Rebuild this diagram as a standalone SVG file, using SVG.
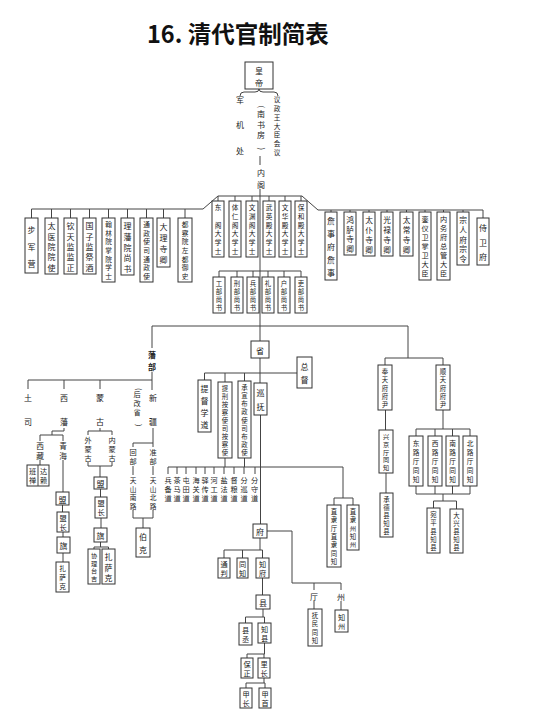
<svg xmlns="http://www.w3.org/2000/svg" width="533" height="719" viewBox="0 0 533 719">
<style>
.t{font-family:"Noto Sans CJK SC","Noto Sans CJK TC",sans-serif;font-size:8px;fill:#222;text-anchor:middle;dominant-baseline:central}
.a{font-size:6.2px}
.s{font-size:6.4px}
.n{font-size:6.7px}
.m{font-size:7.2px}
.p{font-size:7.7px}
.b{fill:#fff;stroke:#333;stroke-width:1}
.c{fill:none;stroke:#444;stroke-width:1}
.title{font-family:"Noto Sans CJK SC","Liberation Sans",sans-serif;font-weight:bold;font-size:23.5px;fill:#111}
</style>
<rect width="533" height="719" fill="#fff"/>
<text class="title" x="147" y="43">16. 清代官制简表</text>

<g id="connectors" class="c">
<path d="M240,96 Q240,92 244,92 L255,92 Q259,92 259,89 Q259,92 263,92 L274,92 Q278,92 278,96"/>
<path d="M260,156 V165"/>
<path d="M260,189 V341"/>
<path d="M31.5,209 H203 L218,196 H302 L318,210 H483"/>
<path d="M31.5,209 V218 M51.5,209 V218 M70.5,209 V218 M89.5,209 V218 M108.5,209 V218 M127.5,209 V218 M146.5,209 V218 M163.5,209 V218 M185,209 V218"/>
<path d="M218,196 V201 M235,196 V201 M252,196 V201 M269,196 V201 M285,196 V201 M301,196 V201"/>
<path d="M331,210 V212 M350,210 V212 M369,210 V212 M387,210 V212 M406.5,210 V212 M425,210 V212 M443.5,210 V212 M463,210 V212 M483,210 V218"/>
<path d="M219,271 H301 M219,271 V277 M237,271 V277 M253,271 V277 M268,271 V277 M284,271 V277 M301,271 V277"/>
<path d="M152,326 H408 V358"/>
<path d="M152,326 V348 M152,372 V390 M28,380 H152 M28,380 V389 M64,380 V389 M100,380 V389"/>
<path d="M64,428 V431 H52 V435 M40,441 V435 H63 V441 M40,460 V465"/>
<path d="M63,460 V492 M62.5,505 V512 M63,532 V537 M63,553 V562"/>
<path d="M100,428 V431 M88,435 V431 H112 V435 M88,462 V466 H112 V462 M100,466 V477 M100.5,489 V497 M101,518 V528 M100.5,542 V547 M94,549 V547 H108.5 V549"/>
<path d="M153,428 V443 M133,447 V443 H153 V447 M133,466 V475 M153,466 V475 M133,510 V518 H153 V510 M143,518 V528"/>
<path d="M260,358 V383 M204.5,373 H297 M204.5,373 V380 M225,373 V382 M244.5,373 V381"/>
<path d="M260.5,415 V524"/>
<path d="M225,458 V467 M244.5,458 V467 M168,467 H343 V498 M334,498 H353 M334,498 V505 M353,498 V505"/>
<path d="M168,467 V474 M177,467 V474 M186,467 V474 M196,467 V474 M205,467 V474 M214,467 V474 M224,467 V474 M234,467 V474 M244,467 V474 M255,467 V474"/>
<path d="M267,531 H292 V583 H341 M314,583 V590 M341,583 V590 M314,601 V609 M341,601 V610"/>
<path d="M260,538 V550 M224,550 H262.5 M224,550 V558 M242.5,550 V558 M262.5,550 V558 M262.5,578 V595"/>
<path d="M263,609 V617 M245.5,617 H264.5 M245.5,617 V623 M264.5,617 V623"/>
<path d="M264.5,643 V654 M247,654 H264.5 M247,654 V658 M264,654 V658"/>
<path d="M264,678 V683 M246,683 H265 M246,683 V688 M265,683 V688"/>
<path d="M385,358 H443 M385,358 V365 M443,358 V365 M385.5,410 V430 M386,473 V493"/>
<path d="M443,410 V429 M416,429 H470 M416,429 V436 M435,429 V436 M452.5,429 V436 M470,429 V436"/>
<path d="M416,486 V494 M435,486 V494 M452.5,486 V494 M470,486 V494 M416,494 H470 M443,494 V501 M433.5,501 H456.5 M433.5,501 V508 M456.5,501 V509"/>
</g>

<g id="n-huangdi"><rect class="b" x="245" y="62" width="28" height="27"/><text class="t"><tspan x="259" y="70">皇</tspan><tspan x="259" y="82">帝</tspan></text></g>
<g id="n-junjichu"><text class="t"><tspan x="240" y="99">军</tspan><tspan x="240" y="124">机</tspan><tspan x="240" y="150">处</tspan></text></g>
<g id="n-nanshufang"><text class="t"><tspan x="261" y="102" rotate="90">(</tspan><tspan x="261" y="113">南</tspan><tspan x="261" y="123.5">书</tspan><tspan x="261" y="134">房</tspan><tspan x="261" y="144" rotate="90">)</tspan></text></g>
<g id="n-yizheng"><text class="t n"><tspan x="277" y="99">议</tspan><tspan x="277" y="107.8">政</tspan><tspan x="277" y="116.7">王</tspan><tspan x="277" y="125.5">大</tspan><tspan x="277" y="134.3">臣</tspan><tspan x="277" y="143.2">会</tspan><tspan x="277" y="152">议</tspan></text></g>
<g id="n-neige"><text class="t"><tspan x="261" y="172">内</tspan><tspan x="261" y="184">阁</tspan></text></g>

<g id="n-bujunying"><rect class="b" x="25" y="218" width="13" height="55"/><text class="t"><tspan x="31.5" y="228.5">步</tspan><tspan x="31.5" y="245.5">军</tspan><tspan x="31.5" y="262.5">营</tspan></text></g>
<g id="n-taiyiyuan"><rect class="b" x="45" y="218" width="13" height="56"/><text class="t"><tspan x="51.5" y="225.2">太</tspan><tspan x="51.5" y="235.6">医</tspan><tspan x="51.5" y="246">院</tspan><tspan x="51.5" y="256.4">院</tspan><tspan x="51.5" y="266.8">使</tspan></text></g>
<g id="n-qintianjian"><rect class="b" x="64" y="218" width="13" height="56"/><text class="t"><tspan x="70.5" y="225.2">钦</tspan><tspan x="70.5" y="235.6">天</tspan><tspan x="70.5" y="246">监</tspan><tspan x="70.5" y="256.4">监</tspan><tspan x="70.5" y="266.8">正</tspan></text></g>
<g id="n-guozijian"><rect class="b" x="83" y="218" width="13" height="56"/><text class="t"><tspan x="89.5" y="225.2">国</tspan><tspan x="89.5" y="235.6">子</tspan><tspan x="89.5" y="246">监</tspan><tspan x="89.5" y="256.4">祭</tspan><tspan x="89.5" y="266.8">酒</tspan></text></g>
<g id="n-hanlinyuan"><rect class="b" x="102" y="218" width="13" height="64"/><text class="t n"><tspan x="108.5" y="224.3">翰</tspan><tspan x="108.5" y="232.9">林</tspan><tspan x="108.5" y="241.4">院</tspan><tspan x="108.5" y="250">掌</tspan><tspan x="108.5" y="258.6">院</tspan><tspan x="108.5" y="267.1">学</tspan><tspan x="108.5" y="275.7">士</tspan></text></g>
<g id="n-lifanyuan"><rect class="b" x="121" y="218" width="13" height="57"/><text class="t"><tspan x="127.5" y="225.3">理</tspan><tspan x="127.5" y="235.9">藩</tspan><tspan x="127.5" y="246.5">院</tspan><tspan x="127.5" y="257.1">尚</tspan><tspan x="127.5" y="267.7">书</tspan></text></g>
<g id="n-tongzhengshi"><rect class="b" x="140" y="218" width="13" height="64"/><text class="t n"><tspan x="146.5" y="224.3">通</tspan><tspan x="146.5" y="232.9">政</tspan><tspan x="146.5" y="241.4">使</tspan><tspan x="146.5" y="250">司</tspan><tspan x="146.5" y="258.6">通</tspan><tspan x="146.5" y="267.1">政</tspan><tspan x="146.5" y="275.7">使</tspan></text></g>
<g id="n-dalisi"><rect class="b" x="157" y="218" width="13" height="49"/><text class="t"><tspan x="163.5" y="225.6">大</tspan><tspan x="163.5" y="236.9">理</tspan><tspan x="163.5" y="248.1">寺</tspan><tspan x="163.5" y="259.4">卿</tspan></text></g>
<g id="n-duchayuan"><rect class="b" x="178" y="218" width="14" height="64"/><text class="t n"><tspan x="185" y="224.3">都</tspan><tspan x="185" y="232.9">察</tspan><tspan x="185" y="241.4">院</tspan><tspan x="185" y="250">左</tspan><tspan x="185" y="258.6">都</tspan><tspan x="185" y="267.1">御</tspan><tspan x="185" y="275.7">史</tspan></text></g>

<g id="n-dongge"><rect class="b" x="212" y="201" width="12" height="56"/><text class="t n"><tspan x="218" y="207.3">东</tspan><tspan x="218" y="224.7">阁</tspan><tspan x="218" y="233.3">大</tspan><tspan x="218" y="242">学</tspan><tspan x="218" y="250.7">士</tspan></text></g>
<g id="n-tirenge"><rect class="b" x="229" y="201" width="12" height="56"/><text class="t n"><tspan x="235" y="207.3">体</tspan><tspan x="235" y="216">仁</tspan><tspan x="235" y="224.7">阁</tspan><tspan x="235" y="233.3">大</tspan><tspan x="235" y="242">学</tspan><tspan x="235" y="250.7">士</tspan></text></g>
<g id="n-wenyuange"><rect class="b" x="246" y="201" width="12" height="56"/><text class="t n"><tspan x="252" y="207.3">文</tspan><tspan x="252" y="216">渊</tspan><tspan x="252" y="224.7">阁</tspan><tspan x="252" y="233.3">大</tspan><tspan x="252" y="242">学</tspan><tspan x="252" y="250.7">士</tspan></text></g>
<g id="n-wuyingdian"><rect class="b" x="263" y="201" width="12" height="56"/><text class="t n"><tspan x="269" y="207.3">武</tspan><tspan x="269" y="216">英</tspan><tspan x="269" y="224.7">殿</tspan><tspan x="269" y="233.3">大</tspan><tspan x="269" y="242">学</tspan><tspan x="269" y="250.7">士</tspan></text></g>
<g id="n-wenhuadian"><rect class="b" x="279" y="201" width="12" height="56"/><text class="t n"><tspan x="285" y="207.3">文</tspan><tspan x="285" y="216">华</tspan><tspan x="285" y="224.7">殿</tspan><tspan x="285" y="233.3">大</tspan><tspan x="285" y="242">学</tspan><tspan x="285" y="250.7">士</tspan></text></g>
<g id="n-baohedian"><rect class="b" x="295" y="201" width="12" height="56"/><text class="t n"><tspan x="301" y="207.3">保</tspan><tspan x="301" y="216">和</tspan><tspan x="301" y="224.7">殿</tspan><tspan x="301" y="233.3">大</tspan><tspan x="301" y="242">学</tspan><tspan x="301" y="250.7">士</tspan></text></g>

<g id="n-gongbu"><rect class="b" x="213" y="277" width="12" height="36"/><text class="t s"><tspan x="219" y="283">工</tspan><tspan x="219" y="291">部</tspan><tspan x="219" y="299">尚</tspan><tspan x="219" y="307">书</tspan></text></g>
<g id="n-xingbu"><rect class="b" x="231" y="277" width="12" height="36"/><text class="t s"><tspan x="237" y="283">刑</tspan><tspan x="237" y="291">部</tspan><tspan x="237" y="299">尚</tspan><tspan x="237" y="307">书</tspan></text></g>
<g id="n-bingbu"><rect class="b" x="247" y="277" width="12" height="36"/><text class="t s"><tspan x="253" y="283">兵</tspan><tspan x="253" y="291">部</tspan><tspan x="253" y="299">尚</tspan><tspan x="253" y="307">书</tspan></text></g>
<g id="n-libu"><rect class="b" x="262" y="277" width="12" height="36"/><text class="t s"><tspan x="268" y="283">礼</tspan><tspan x="268" y="291">部</tspan><tspan x="268" y="299">尚</tspan><tspan x="268" y="307">书</tspan></text></g>
<g id="n-hubu"><rect class="b" x="278" y="277" width="12" height="36"/><text class="t s"><tspan x="284" y="283">户</tspan><tspan x="284" y="291">部</tspan><tspan x="284" y="299">尚</tspan><tspan x="284" y="307">书</tspan></text></g>
<g id="n-libu2"><rect class="b" x="295" y="277" width="12" height="36"/><text class="t s"><tspan x="301" y="283">吏</tspan><tspan x="301" y="291">部</tspan><tspan x="301" y="299">尚</tspan><tspan x="301" y="307">书</tspan></text></g>

<g id="n-zhanshifu"><rect class="b" x="325" y="212" width="12" height="68"/><text class="t"><tspan x="331" y="220.4">詹</tspan><tspan x="331" y="233.2">事</tspan><tspan x="331" y="246">府</tspan><tspan x="331" y="258.8">詹</tspan><tspan x="331" y="271.6">事</tspan></text></g>
<g id="n-honglusi"><rect class="b" x="344" y="212" width="12" height="43"/><text class="t p"><tspan x="350" y="218.9">鸿</tspan><tspan x="350" y="228.6">胪</tspan><tspan x="350" y="238.4">寺</tspan><tspan x="350" y="248.1">卿</tspan></text></g>
<g id="n-taipusi"><rect class="b" x="363" y="212" width="12" height="44"/><text class="t p"><tspan x="369" y="219">太</tspan><tspan x="369" y="229">仆</tspan><tspan x="369" y="239">寺</tspan><tspan x="369" y="249">卿</tspan></text></g>
<g id="n-guanglusi"><rect class="b" x="381" y="212" width="12" height="44"/><text class="t p"><tspan x="387" y="219">光</tspan><tspan x="387" y="229">禄</tspan><tspan x="387" y="239">寺</tspan><tspan x="387" y="249">卿</tspan></text></g>
<g id="n-taichangsi"><rect class="b" x="400" y="212" width="13" height="44"/><text class="t p"><tspan x="406.5" y="219">太</tspan><tspan x="406.5" y="229">常</tspan><tspan x="406.5" y="239">寺</tspan><tspan x="406.5" y="249">卿</tspan></text></g>
<g id="n-luanyiwei"><rect class="b" x="419" y="212" width="12" height="68"/><text class="t m"><tspan x="425" y="218.6">銮</tspan><tspan x="425" y="227.7">仪</tspan><tspan x="425" y="236.9">卫</tspan><tspan x="425" y="246">掌</tspan><tspan x="425" y="255.1">卫</tspan><tspan x="425" y="264.3">大</tspan><tspan x="425" y="273.4">臣</tspan></text></g>
<g id="n-neiwufu"><rect class="b" x="437" y="212" width="13" height="68"/><text class="t m"><tspan x="443.5" y="218.6">内</tspan><tspan x="443.5" y="227.7">务</tspan><tspan x="443.5" y="236.9">府</tspan><tspan x="443.5" y="246">总</tspan><tspan x="443.5" y="255.1">管</tspan><tspan x="443.5" y="264.3">大</tspan><tspan x="443.5" y="273.4">臣</tspan></text></g>
<g id="n-zongrenfu"><rect class="b" x="457" y="212" width="12" height="53"/><text class="t p"><tspan x="463" y="218.9">宗</tspan><tspan x="463" y="228.7">人</tspan><tspan x="463" y="238.5">府</tspan><tspan x="463" y="248.3">宗</tspan><tspan x="463" y="258.1">令</tspan></text></g>
<g id="n-shiweifu"><rect class="b" x="477" y="218" width="12" height="47"/><text class="t"><tspan x="483" y="227.2">侍</tspan><tspan x="483" y="241.5">卫</tspan><tspan x="483" y="255.8">府</tspan></text></g>

<g id="n-sheng"><rect class="b" x="251" y="341" width="18" height="17"/><text class="t"><tspan x="260" y="349.5">省</tspan></text></g>
<g id="n-zongdu"><rect class="b" x="297" y="357" width="15" height="31"/><text class="t"><tspan x="304.5" y="365.8">总</tspan><tspan x="304.5" y="379.3">督</tspan></text></g>
<g id="n-tiduxuedao"><rect class="b" x="198" y="380" width="13" height="52"/><text class="t"><tspan x="204.5" y="388">提</tspan><tspan x="204.5" y="400">督</tspan><tspan x="204.5" y="412">学</tspan><tspan x="204.5" y="424">道</tspan></text></g>
<g id="n-anchashi"><rect class="b" x="218" y="382" width="14" height="76"/><text class="t s"><tspan x="225" y="388">提</tspan><tspan x="225" y="396">刑</tspan><tspan x="225" y="404">按</tspan><tspan x="225" y="412">察</tspan><tspan x="225" y="420">使</tspan><tspan x="225" y="428">司</tspan><tspan x="225" y="436">按</tspan><tspan x="225" y="444">察</tspan><tspan x="225" y="452">使</tspan></text></g>
<g id="n-buzhengshi"><rect class="b" x="238" y="381" width="13" height="77"/><text class="t s"><tspan x="244.5" y="387.1">承</tspan><tspan x="244.5" y="395.2">宣</tspan><tspan x="244.5" y="403.3">布</tspan><tspan x="244.5" y="411.4">政</tspan><tspan x="244.5" y="419.5">使</tspan><tspan x="244.5" y="427.6">司</tspan><tspan x="244.5" y="435.7">布</tspan><tspan x="244.5" y="443.8">政</tspan><tspan x="244.5" y="451.9">使</tspan></text></g>
<g id="n-xunfu"><rect class="b" x="254" y="383" width="13" height="32"/><text class="t"><tspan x="260.5" y="392">巡</tspan><tspan x="260.5" y="406">抚</tspan></text></g>

<g id="n-dao">
<text class="t m"><tspan x="168" y="480">兵</tspan><tspan x="168" y="489">备</tspan><tspan x="168" y="498">道</tspan></text>
<text class="t m"><tspan x="177" y="480">茶</tspan><tspan x="177" y="489">马</tspan><tspan x="177" y="498">道</tspan></text>
<text class="t m"><tspan x="186" y="480">屯</tspan><tspan x="186" y="489">田</tspan><tspan x="186" y="498">道</tspan></text>
<text class="t m"><tspan x="196" y="480">海</tspan><tspan x="196" y="489">关</tspan><tspan x="196" y="498">道</tspan></text>
<text class="t m"><tspan x="205" y="480">驿</tspan><tspan x="205" y="489">传</tspan><tspan x="205" y="498">道</tspan></text>
<text class="t m"><tspan x="214" y="480">河</tspan><tspan x="214" y="489">工</tspan><tspan x="214" y="498">道</tspan></text>
<text class="t m"><tspan x="224" y="480">盐</tspan><tspan x="224" y="489">法</tspan><tspan x="224" y="498">道</tspan></text>
<text class="t m"><tspan x="234" y="480">督</tspan><tspan x="234" y="489">粮</tspan><tspan x="234" y="498">道</tspan></text>
<text class="t m"><tspan x="244" y="480">分</tspan><tspan x="244" y="489">巡</tspan><tspan x="244" y="498">道</tspan></text>
<text class="t m"><tspan x="254.5" y="480">分</tspan><tspan x="254.5" y="489">守</tspan><tspan x="254.5" y="498">道</tspan></text>
</g>

<g id="n-zhiliting"><rect class="b" x="327" y="505" width="14" height="62"/><text class="t s"><tspan x="334" y="511.1">直</tspan><tspan x="334" y="519.4">隶</tspan><tspan x="334" y="527.7">厅</tspan><tspan x="334" y="536">直</tspan><tspan x="334" y="544.3">隶</tspan><tspan x="334" y="552.6">同</tspan><tspan x="334" y="560.9">知</tspan></text></g>
<g id="n-zhilizhou"><rect class="b" x="347" y="505" width="12" height="45"/><text class="t s"><tspan x="353" y="511.1">直</tspan><tspan x="353" y="519.3">隶</tspan><tspan x="353" y="527.5">州</tspan><tspan x="353" y="535.7">知</tspan><tspan x="353" y="543.9">州</tspan></text></g>

<g id="n-fu"><rect class="b" x="253" y="524" width="14" height="14"/><text class="t"><tspan x="260" y="531">府</tspan></text></g>
<g id="n-tongpan"><rect class="b" x="218" y="558" width="12" height="20"/><text class="t m"><tspan x="224" y="563.5">通</tspan><tspan x="224" y="572.5">判</tspan></text></g>
<g id="n-tongzhi"><rect class="b" x="237" y="558" width="11" height="20"/><text class="t m"><tspan x="242.5" y="563.5">同</tspan><tspan x="242.5" y="572.5">知</tspan></text></g>
<g id="n-zhifu"><rect class="b" x="256" y="558" width="13" height="20"/><text class="t m"><tspan x="262.5" y="563.5">知</tspan><tspan x="262.5" y="572.5">府</tspan></text></g>
<g id="n-xian"><rect class="b" x="256" y="595" width="14" height="14"/><text class="t"><tspan x="263" y="602">县</tspan></text></g>
<g id="n-xiancheng"><rect class="b" x="239" y="623" width="13" height="22"/><text class="t m"><tspan x="245.5" y="629.5">县</tspan><tspan x="245.5" y="638.5">丞</tspan></text></g>
<g id="n-zhixian"><rect class="b" x="258" y="623" width="13" height="20"/><text class="t m"><tspan x="264.5" y="628.5">知</tspan><tspan x="264.5" y="637.5">县</tspan></text></g>
<g id="n-baozheng"><rect class="b" x="241" y="658" width="12" height="20"/><text class="t m"><tspan x="247" y="663.5">保</tspan><tspan x="247" y="672.5">正</tspan></text></g>
<g id="n-lizhang"><rect class="b" x="258" y="658" width="12" height="20"/><text class="t m"><tspan x="264" y="663.5">里</tspan><tspan x="264" y="672.5">长</tspan></text></g>
<g id="n-jiazhang"><rect class="b" x="240" y="688" width="12" height="20"/><text class="t m"><tspan x="246" y="693.5">甲</tspan><tspan x="246" y="702.5">长</tspan></text></g>
<g id="n-jiashou"><rect class="b" x="259" y="688" width="12" height="20"/><text class="t m"><tspan x="265" y="693.5">甲</tspan><tspan x="265" y="702.5">首</tspan></text></g>
<g id="n-ting"><text class="t"><tspan x="314" y="596">厅</tspan></text></g>
<g id="n-zhou"><text class="t"><tspan x="341" y="596">州</tspan></text></g>
<g id="n-fumin"><rect class="b" x="308" y="609" width="14" height="37"/><text class="t s"><tspan x="315" y="615.1">抚</tspan><tspan x="315" y="623.4">民</tspan><tspan x="315" y="631.6">同</tspan><tspan x="315" y="639.9">知</tspan></text></g>
<g id="n-zhizhou"><rect class="b" x="335" y="610" width="13" height="22"/><text class="t m"><tspan x="341.5" y="616.5">知</tspan><tspan x="341.5" y="625.5">州</tspan></text></g>

<g id="n-fengtian"><rect class="b" x="378" y="365" width="14" height="45"/><text class="t s"><tspan x="385" y="371.1">奉</tspan><tspan x="385" y="379.3">天</tspan><tspan x="385" y="387.5">府</tspan><tspan x="385" y="395.7">府</tspan><tspan x="385" y="403.9">尹</tspan></text></g>
<g id="n-shuntian"><rect class="b" x="436" y="365" width="14" height="45"/><text class="t s"><tspan x="443" y="371.1">顺</tspan><tspan x="443" y="379.3">天</tspan><tspan x="443" y="387.5">府</tspan><tspan x="443" y="395.7">府</tspan><tspan x="443" y="403.9">尹</tspan></text></g>
<g id="n-xingjing"><rect class="b" x="379" y="430" width="14" height="43"/><text class="t a"><tspan x="386" y="435.9">兴</tspan><tspan x="386" y="443.7">京</tspan><tspan x="386" y="451.5">厅</tspan><tspan x="386" y="459.3">同</tspan><tspan x="386" y="467.1">知</tspan></text></g>
<g id="n-chengde"><rect class="b" x="380" y="493" width="13" height="44"/><text class="t s"><tspan x="386.5" y="499">承</tspan><tspan x="386.5" y="507">德</tspan><tspan x="386.5" y="515">县</tspan><tspan x="386.5" y="523">知</tspan><tspan x="386.5" y="531">县</tspan></text></g>
<g id="n-donglu"><rect class="b" x="409" y="436" width="14" height="50"/><text class="t n"><tspan x="416" y="442.6">东</tspan><tspan x="416" y="451.8">路</tspan><tspan x="416" y="461">厅</tspan><tspan x="416" y="470.2">同</tspan><tspan x="416" y="479.4">知</tspan></text></g>
<g id="n-xilu"><rect class="b" x="428" y="436" width="14" height="50"/><text class="t n"><tspan x="435" y="442.6">西</tspan><tspan x="435" y="451.8">路</tspan><tspan x="435" y="461">厅</tspan><tspan x="435" y="470.2">同</tspan><tspan x="435" y="479.4">知</tspan></text></g>
<g id="n-nanlu"><rect class="b" x="446" y="436" width="13" height="50"/><text class="t n"><tspan x="452.5" y="442.6">南</tspan><tspan x="452.5" y="451.8">路</tspan><tspan x="452.5" y="461">厅</tspan><tspan x="452.5" y="470.2">同</tspan><tspan x="452.5" y="479.4">知</tspan></text></g>
<g id="n-beilu"><rect class="b" x="463" y="436" width="14" height="50"/><text class="t n"><tspan x="470" y="442.6">北</tspan><tspan x="470" y="451.8">路</tspan><tspan x="470" y="461">厅</tspan><tspan x="470" y="470.2">同</tspan><tspan x="470" y="479.4">知</tspan></text></g>
<g id="n-wanping"><rect class="b" x="427" y="508" width="13" height="45"/><text class="t s"><tspan x="433.5" y="514.1">宛</tspan><tspan x="433.5" y="522.3">平</tspan><tspan x="433.5" y="530.5">县</tspan><tspan x="433.5" y="538.7">知</tspan><tspan x="433.5" y="546.9">县</tspan></text></g>
<g id="n-daxing"><rect class="b" x="450" y="509" width="13" height="44"/><text class="t s"><tspan x="456.5" y="515">大</tspan><tspan x="456.5" y="523">兴</tspan><tspan x="456.5" y="531">县</tspan><tspan x="456.5" y="539">知</tspan><tspan x="456.5" y="547">县</tspan></text></g>

<g id="n-fanbu"><text class="t" font-weight="bold"><tspan x="152" y="354">藩</tspan><tspan x="152" y="366">部</tspan></text></g>
<g id="n-tusi"><text class="t"><tspan x="28" y="397">土</tspan><tspan x="28" y="421">司</tspan></text></g>
<g id="n-xifan"><text class="t"><tspan x="64" y="397">西</tspan><tspan x="64" y="421">藩</tspan></text></g>
<g id="n-menggu"><text class="t"><tspan x="100" y="397">蒙</tspan><tspan x="100" y="421">古</tspan></text></g>
<g id="n-xinjiang"><text class="t"><tspan x="153" y="397">新</tspan><tspan x="153" y="421">疆</tspan></text></g>
<g id="n-hougaisheng"><text class="t m"><tspan x="137" y="385" rotate="90">(</tspan><tspan x="137" y="394">后</tspan><tspan x="137" y="403">改</tspan><tspan x="137" y="412">省</tspan><tspan x="137" y="421" rotate="90">)</tspan></text></g>
<g id="n-xizang"><text class="t p"><tspan x="40" y="445">西</tspan><tspan x="40" y="455">藏</tspan></text></g>
<g id="n-qinghai"><text class="t p"><tspan x="63" y="445">青</tspan><tspan x="63" y="455">海</tspan></text></g>
<g id="n-banchan-dalai"><rect class="b" x="27" y="465" width="22" height="21"/><path class="c" d="M38,465 V486"/><text class="t m"><tspan x="32.5" y="471">班</tspan><tspan x="32.5" y="480">禅</tspan></text><text class="t m"><tspan x="43.5" y="471">达</tspan><tspan x="43.5" y="480">赖</tspan></text></g>
<g id="n-qh-meng"><rect class="b" x="56" y="492" width="13" height="13"/><text class="t"><tspan x="62.5" y="498.5">盟</tspan></text></g>
<g id="n-qh-mengzhang"><rect class="b" x="57" y="512" width="12" height="20"/><text class="t m"><tspan x="63" y="517.5">盟</tspan><tspan x="63" y="526.5">长</tspan></text></g>
<g id="n-qh-qi"><rect class="b" x="57" y="537" width="13" height="16"/><text class="t"><tspan x="63.5" y="545">旗</tspan></text></g>
<g id="n-qh-zasake"><rect class="b" x="56" y="562" width="13" height="30"/><text class="t n"><tspan x="62.5" y="568.3">扎</tspan><tspan x="62.5" y="577">萨</tspan><tspan x="62.5" y="585.7">克</tspan></text></g>
<g id="n-waimenggu"><text class="t m"><tspan x="88" y="440">外</tspan><tspan x="88" y="449">蒙</tspan><tspan x="88" y="458">古</tspan></text></g>
<g id="n-neimenggu"><text class="t m"><tspan x="112" y="440">内</tspan><tspan x="112" y="449">蒙</tspan><tspan x="112" y="458">古</tspan></text></g>
<g id="n-mg-meng"><rect class="b" x="94" y="477" width="13" height="12"/><text class="t"><tspan x="100.5" y="483">盟</tspan></text></g>
<g id="n-mg-mengzhang"><rect class="b" x="95" y="497" width="12" height="21"/><text class="t m"><tspan x="101" y="502.8">盟</tspan><tspan x="101" y="512.2">长</tspan></text></g>
<g id="n-mg-qi"><rect class="b" x="94" y="528" width="13" height="14"/><text class="t"><tspan x="100.5" y="535">旗</tspan></text></g>
<g id="n-xieli"><rect class="b" x="88" y="549" width="12" height="35"/><text class="t a"><tspan x="94" y="554.9">协</tspan><tspan x="94" y="562.6">理</tspan><tspan x="94" y="570.4">台</tspan><tspan x="94" y="578.1">吉</tspan></text></g>
<g id="n-mg-zasake"><rect class="b" x="102" y="549" width="13" height="35"/><text class="t"><tspan x="108.5" y="556.2">扎</tspan><tspan x="108.5" y="566.5">萨</tspan><tspan x="108.5" y="576.8">克</tspan></text></g>
<g id="n-huibu"><text class="t m"><tspan x="133" y="452">回</tspan><tspan x="133" y="461">部</tspan></text></g>
<g id="n-zhunbu"><text class="t m"><tspan x="153" y="452">准</tspan><tspan x="153" y="461">部</tspan></text></g>
<g id="n-tianshannan"><text class="t n"><tspan x="133" y="480">天</tspan><tspan x="133" y="488.5">山</tspan><tspan x="133" y="497">南</tspan><tspan x="133" y="505.5">路</tspan></text></g>
<g id="n-tianshanbei"><text class="t n"><tspan x="153" y="480">天</tspan><tspan x="153" y="488.5">山</tspan><tspan x="153" y="497">北</tspan><tspan x="153" y="505.5">路</tspan></text></g>
<g id="n-boke"><rect class="b" x="136" y="528" width="14" height="29"/><text class="t"><tspan x="143" y="536.3">伯</tspan><tspan x="143" y="548.8">克</tspan></text></g>
</svg>
